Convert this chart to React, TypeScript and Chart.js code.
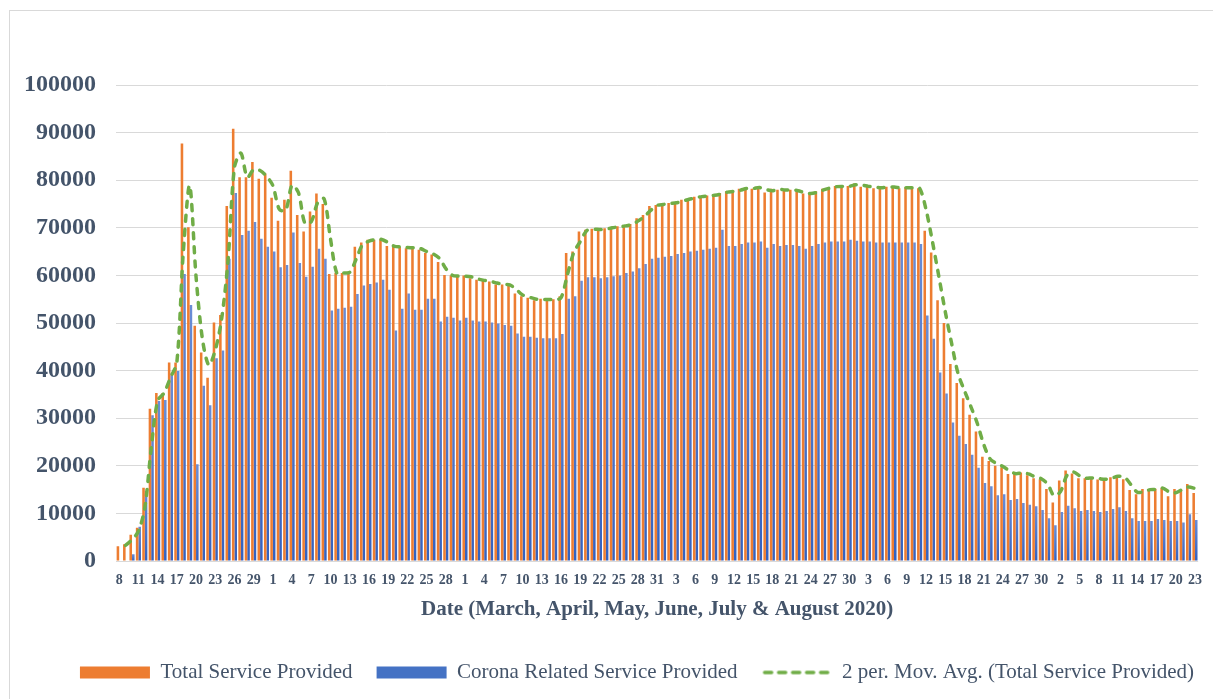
import React, { useEffect, useRef } from "react";
import { Chart, registerables } from "chart.js";

Chart.register(...registerables);

// Date ranges: March 8 – August 23, 2020 (day numbers)
const monthDayRanges: [number, number][] = [
  [8, 31], [1, 30], [1, 31], [1, 30], [1, 31], [1, 23],
];
const categories: string[] = [];
for (const [a, b] of monthDayRanges) for (let d = a; d <= b; d++) categories.push(String(d));

const totalService = [
  3100, 3500, 5500, 7000, 15400, 32000, 35300, 35300, 41700, 41700,
  87700, 70100, 49400, 43800, 38500, 50100, 51700, 74600, 90800, 80600,
  80600, 83800, 80300, 81400, 76300, 71500, 75900, 82000, 72700, 69200,
  73400, 77200, 75000, 60300, 60500, 60500, 60800, 66000, 66900, 67500,
  67500, 67600, 66200, 66000, 66000, 65700, 65900, 65400, 64700, 64400,
  62800, 60100, 60000, 59700, 60000, 59400, 59100, 58800, 58700, 58100,
  58100, 57900, 56200, 55600, 55300, 54800, 55100, 54800, 55000, 55600,
  64700, 65000, 69200, 69600, 69800, 69500, 69900, 70100, 70300, 70500,
  70800, 72000, 72700, 74600, 74800, 75000, 75200, 75300, 75900, 76100,
  76500, 76600, 76800, 76900, 77300, 77700, 77600, 78200, 78300, 78200,
  78700, 77400, 78200, 78000, 77900, 78000, 77600, 77200, 77200, 77700,
  78200, 78500, 78800, 78600, 78800, 79300, 78600, 78800, 78300, 78500,
  78600, 78500, 78300, 78500, 78300, 78300, 69400, 64800, 54800, 50000,
  41400, 37400, 34200, 30700, 27200, 21900, 21000, 20000, 19700, 18300,
  18400, 18600, 18000, 17400, 17200, 15100, 12300, 16900, 19000, 18400,
  17400, 17400, 17500, 17100, 17200, 17600, 18000, 17200, 14900, 14000,
  15100, 14900, 15200, 15400, 13600, 15100, 14900, 16200, 14300,
];

const coronaService = [
  0, 100, 1400, 7200, 14700, 30600, 33600, 33800, 39400, 39900,
  60300, 53800, 20300, 36800, 32700, 42600, 44200, 63500, 77300, 68500,
  69400, 71200, 67700, 66000, 65000, 61700, 62200, 69000, 62600, 59700,
  61800, 65600, 63500, 52600, 53000, 53200, 53400, 56100, 57900, 58200,
  58500, 59100, 57000, 48400, 53000, 56200, 52800, 52800, 55100, 55100,
  50300, 51300, 51100, 50500, 51100, 50500, 50300, 50300, 50100, 49900,
  49600, 49400, 47800, 47100, 47100, 46900, 46800, 46800, 46800, 47700,
  55100, 55600, 58900, 59600, 59600, 59400, 59600, 59800, 60000, 60500,
  60800, 61500, 62400, 63500, 63700, 63900, 64100, 64500, 64700, 65000,
  65200, 65400, 65600, 65800, 69600, 66200, 66200, 66600, 66900, 66900,
  67100, 65800, 66600, 66200, 66400, 66400, 66200, 65600, 66200, 66600,
  66900, 67100, 67100, 67100, 67500, 67300, 67100, 67100, 66900, 66900,
  66900, 66900, 66900, 66900, 66900, 66600, 51600, 46700, 39600, 35200,
  29100, 26300, 24600, 22300, 19600, 16400, 15700, 13800, 14000, 12800,
  13000, 12200, 11800, 11500, 10700, 9000, 7500, 10300, 11600, 11100,
  10500, 10700, 10500, 10300, 10500, 10900, 11300, 10500, 9000, 8400,
  8400, 8400, 8800, 8600, 8400, 8400, 8100, 9800, 8600,
];

const yTickValues = [0, 10000, 20000, 30000, 40000, 50000, 60000, 70000, 80000, 90000, 100000];
const seriesNames = [
  "Total Service Provided",
  "Corona Related Service Provided",
  "2 per. Mov. Avg. (Total Service Provided)",
];
const xAxisTitle = "Date (March, April, May, June, July & August 2020)";

// Excel 2-period moving average trendline of the total series
const movingAvg: (number | null)[] = totalService.map((v, i) =>
  i === 0 ? null : (totalService[i - 1] + v) / 2
);

const ORANGE = "#ed7d31";
const BLUE = "#4472c4";
const GREEN = "#70ad47";
const TEXT = "#44546a";
const GRID = "#d9d9d9";
const SERIF = "'Liberation Serif', 'Times New Roman', serif";

function makeDashSwatch(): HTMLCanvasElement {
  const c = document.createElement("canvas");
  c.width = 70;
  c.height = 12;
  const g = c.getContext("2d")!;
  g.strokeStyle = GREEN;
  g.lineWidth = 3.5;
  g.lineCap = "round";
  g.setLineDash([7, 7]);
  g.beginPath();
  g.moveTo(3, 6);
  g.lineTo(68, 6);
  g.stroke();
  return c;
}

const legendShift = {
  id: "legendShift",
  afterLayout(chart: any) {
    const l = chart.legend;
    if (l) {
      l.left += 37;
      l.right += 37;
    }
  },
};

export default function App() {
  const canvasRef = useRef<HTMLCanvasElement | null>(null);

  useEffect(() => {
    if (!canvasRef.current) return;
    const swatch = makeDashSwatch();

    const blueGradient = (ctx: any) => {
      const chart = ctx.chart;
      if (ctx.type !== "data" || !chart.chartArea || !chart.scales?.y) return BLUE;
      const ys = chart.scales.y;
      const top = ys.getPixelForValue(ctx.raw);
      const bottom = ys.getPixelForValue(0);
      if (!isFinite(top) || !isFinite(bottom) || bottom - top < 1) return BLUE;
      const g = chart.ctx.createLinearGradient(0, top, 0, bottom);
      g.addColorStop(0, "#6a8dd6");
      g.addColorStop(1, "#3461bf");
      return g;
    };

    const chart = new Chart(canvasRef.current, {
      type: "bar",
      data: {
        labels: categories,
        datasets: [
          {
            label: seriesNames[0],
            data: totalService,
            backgroundColor: ORANGE,
            borderWidth: 0,
            order: 1,
            categoryPercentage: 0.8,
            barPercentage: 1.0,
            pointStyle: "rect",
          } as any,
          {
            label: seriesNames[1],
            data: coronaService,
            backgroundColor: blueGradient,
            borderWidth: 0,
            order: 2,
            categoryPercentage: 0.8,
            barPercentage: 1.0,
            pointStyle: "rect",
          } as any,
          {
            type: "line",
            label: seriesNames[2],
            data: movingAvg,
            borderColor: GREEN,
            backgroundColor: GREEN,
            borderWidth: 3.5,
            borderDash: [6, 8],
            borderCapStyle: "round",
            pointRadius: 0,
            pointHoverRadius: 0,
            tension: 0.3,
            fill: false,
            order: 0,
            pointStyle: swatch,
          } as any,
        ],
      },
      plugins: [legendShift],
      options: {
        responsive: false,
        animation: false,
        layout: { padding: { top: 85, right: 13, left: 0, bottom: 6 } },
        plugins: {
          tooltip: { enabled: false },
          legend: {
            position: "bottom",
            labels: {
              usePointStyle: true,
              pointStyleWidth: 70,
              boxWidth: 70,
              boxHeight: 12,
              padding: 24,
              color: TEXT,
              font: { family: SERIF, size: 21 },
              sort: (a: any, b: any) => a.datasetIndex - b.datasetIndex,
              generateLabels: (ch: any) => {
                const items = (Chart as any).defaults.plugins.legend.labels.generateLabels(ch);
                items.forEach((it: any) => {
                  if (it.datasetIndex === 0) it.fillStyle = ORANGE;
                  if (it.datasetIndex === 1) it.fillStyle = BLUE;
                  it.lineWidth = 0;
                  it.lineDash = [];
                });
                return items;
              },
            },
          },
        },
        scales: {
          x: {
            offset: true,
            grid: { display: false, drawTicks: false },
            border: { display: false },
            ticks: {
              autoSkip: false,
              maxRotation: 0,
              minRotation: 0,
              padding: 11,
              color: TEXT,
              font: { family: SERIF, size: 14, weight: "bold" },
              callback: (_v: any, i: number) => (i % 3 === 0 ? categories[i] : ""),
            },
            title: {
              display: true,
              text: xAxisTitle,
              color: TEXT,
              font: { family: SERIF, size: 21, weight: "bold" },
              padding: { top: 0, bottom: 16 },
            },
            afterFit: (s: any) => {
              s.height = 77;
            },
          },
          y: {
            min: 0,
            max: 100000,
            grid: { color: GRID, lineWidth: 1, drawTicks: false },
            border: { display: false },
            afterBuildTicks: (s: any) => {
              s.ticks = yTickValues.map((v) => ({ value: v }));
            },
            ticks: {
              padding: 20,
              color: TEXT,
              font: { family: SERIF, size: 24, weight: "bold" },
              callback: (v: any) => String(v),
            },
            afterFit: (s: any) => {
              s.width = 116;
            },
          },
        },
      } as any,
    });
    return () => chart.destroy();
  }, []);

  return (
    <div
      style={{
        position: "fixed",
        left: 0,
        top: 0,
        width: 1213,
        height: 699,
        overflow: "hidden",
        background: "#ffffff",
      }}
    >
      <div
        style={{
          position: "absolute",
          left: 9,
          top: 10,
          width: 1260,
          height: 760,
          border: `1px solid ${GRID}`,
          boxSizing: "border-box",
        }}
      />
      <canvas
        ref={canvasRef}
        width={1213}
        height={699}
        style={{ position: "absolute", left: 0, top: 0, width: 1213, height: 699 }}
      />
    </div>
  );
}
